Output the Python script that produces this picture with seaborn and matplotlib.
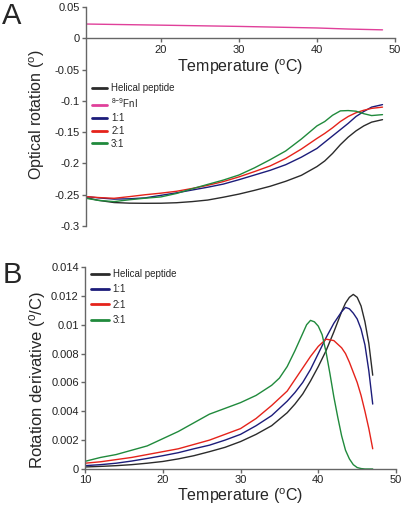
# Thermal unfolding: optical rotation (A) and its derivative (B)
import numpy as np
import pandas as pd
import seaborn as sns
import matplotlib
matplotlib.use("Agg")
import matplotlib.pyplot as plt

sns.set_theme(style="ticks")
plt.rcParams['font.family'] = ['Liberation Sans', 'DejaVu Sans']
plt.rcParams['mathtext.fontset'] = 'custom'
plt.rcParams['mathtext.rm'] = 'Liberation Sans'
plt.rcParams['mathtext.default'] = 'regular'
plt.rcParams['axes.unicode_minus'] = False

# ---- panel A data (optical rotation, degrees) ----
temp_a = [10.4, 12, 14, 16, 18, 20, 22, 24, 26, 28, 30, 32, 34, 36, 38, 40,
          41, 42, 43, 44, 45, 46, 47, 48.4]
helical_a = [-0.2546, -0.259, -0.2625, -0.2635, -0.2637, -0.2636, -0.2628, -0.261,
             -0.2585, -0.254, -0.249, -0.243, -0.2365, -0.2285, -0.219, -0.205,
             -0.196, -0.184, -0.170, -0.158, -0.148, -0.140, -0.134, -0.130]
r11_a = [-0.253, -0.255, -0.257, -0.2565, -0.255, -0.251, -0.247, -0.2425,
         -0.238, -0.233, -0.226, -0.2185, -0.211, -0.202, -0.190, -0.176,
         -0.166, -0.156, -0.146, -0.136, -0.125, -0.117, -0.110, -0.106]
r21_a = [-0.253, -0.2545, -0.2557, -0.253, -0.250, -0.2475, -0.2445, -0.240,
         -0.235, -0.229, -0.2215, -0.213, -0.204, -0.192, -0.177, -0.160,
         -0.152, -0.143, -0.133, -0.125, -0.119, -0.115, -0.112, -0.110]
r31_a = [-0.2557, -0.259, -0.261, -0.258, -0.2555, -0.2535, -0.248, -0.2405,
         -0.2335, -0.2266, -0.2185, -0.207, -0.194, -0.180, -0.161, -0.140,
         -0.133, -0.123, -0.116, -0.1155, -0.1165, -0.1205, -0.1235, -0.122]
temp_fni = [10.4, 20, 30, 40, 44, 48.4]
fni_a = [0.0228, 0.021, 0.019, 0.0165, 0.0148, 0.0135]

# ---- panel B data (rotation derivative, deg/C) ----
temp_b = [10, 12, 14, 16, 18, 20, 22, 24, 26, 28, 30, 32, 34, 36, 37, 38, 39, 40,
          41, 42, 43, 43.5, 44, 44.5, 45, 45.5, 46, 46.5, 47]
helical_b = [0.00014, 0.00018, 0.00023, 0.0003, 0.0004, 0.00052, 0.0007, 0.00092,
             0.0012, 0.0015, 0.0019, 0.0024, 0.003, 0.0039, 0.0045, 0.0052, 0.0061,
             0.0071, 0.0082, 0.0095, 0.0109, 0.0115, 0.0119, 0.0121, 0.0119, 0.0113,
             0.0102, 0.0087, 0.0065]
r11_b = [0.00023, 0.0003, 0.0004, 0.00055, 0.00073, 0.00092, 0.00113, 0.0014,
         0.00165, 0.002, 0.0024, 0.003, 0.0037, 0.0047, 0.0053, 0.0060, 0.0069,
         0.0080, 0.0091, 0.0101, 0.0109, 0.0112, 0.0111, 0.0108, 0.0104, 0.0097,
         0.0086, 0.0068, 0.0045]
r21_b = [0.0004, 0.0005, 0.00065, 0.0008, 0.001, 0.0012, 0.0014, 0.0017, 0.002,
         0.0024, 0.0028, 0.0035, 0.0044, 0.0054, 0.0062, 0.0070, 0.0078, 0.0085,
         0.0090, 0.0089, 0.0084, 0.0080, 0.0074, 0.0067, 0.0060, 0.0051, 0.0040,
         0.0028, 0.0014]
temp_b_green = [10, 12, 14, 16, 18, 20, 22, 24, 26, 28, 30, 32, 34, 35, 36, 37, 38,
                38.5, 39, 39.5, 40, 40.5, 41, 41.5, 42, 42.5, 43, 43.5, 44, 44.5,
                45, 45.5, 46, 47]
r31_b = [0.00053, 0.0008, 0.001, 0.0013, 0.0016, 0.0021, 0.0026, 0.0032, 0.0038,
         0.0042, 0.0046, 0.0051, 0.0058, 0.0063, 0.0071, 0.0082, 0.0094, 0.0100,
         0.0103, 0.0102, 0.0099, 0.0093, 0.0081, 0.0066, 0.0050, 0.0036, 0.0023,
         0.0013, 0.0007, 0.0003, 0.0001, 0.00003, 0.0, 0.0]

c_helical = '#2b2b2b'
c_fni = '#e0409a'
c_11 = '#1c1c7a'
c_21 = '#e5231b'
c_31 = '#208a3c'
spine_col = '#666666'
fs_tick = 8
fs_label = 11.5
fs_leg = 7

fig = plt.figure(figsize=(4.05, 5.08), dpi=100)
ax_a = fig.add_axes([0.2123, 0.5551, 0.763, 0.4311])
ax_b = fig.add_axes([0.2099, 0.0768, 0.768, 0.3976])

# panel A
sns.lineplot(x=temp_a, y=helical_a, color=c_helical, lw=1, label='Helical peptide', ax=ax_a)
sns.lineplot(x=temp_fni, y=fni_a, color=c_fni, lw=1, label='$^{8{-}9}$FnI', ax=ax_a)
sns.lineplot(x=temp_a, y=r11_a, color=c_11, lw=1, label='1:1', ax=ax_a)
sns.lineplot(x=temp_a, y=r21_a, color=c_21, lw=1, label='2:1', ax=ax_a)
sns.lineplot(x=temp_a, y=r31_a, color=c_31, lw=1, label='3:1', ax=ax_a)

ax_a.set_xlim(10.4, 50)
ax_a.set_ylim(-0.3, 0.05)
ax_a.set_xticks([20, 30, 40, 50])
ax_a.set_yticks([-0.3, -0.25, -0.2, -0.15, -0.1, -0.05, 0, 0.05])
ax_a.set_yticklabels(['-0.3', '-0.25', '-0.2', '-0.15', '-0.1', '-0.05', '0', '0.05'])
ax_a.spines['bottom'].set_position(('data', 0))
ax_a.set_xlabel('Temperature ($^{o}$C)', fontsize=fs_label, labelpad=2)
ax_a.set_ylabel('Optical rotation ($^{o}$)', fontsize=fs_label)
ax_a.yaxis.set_label_coords(-0.125, 0.51)
leg_a = ax_a.legend(loc='upper left', bbox_to_anchor=(0.012, 0.66), frameon=False,
                    fontsize=fs_leg, handlelength=1.6, handletextpad=0.4,
                    labelspacing=0.3, borderaxespad=0, borderpad=0.2)

# panel B
sns.lineplot(x=temp_b, y=helical_b, color=c_helical, lw=1, label='Helical peptide', ax=ax_b)
sns.lineplot(x=temp_b, y=r11_b, color=c_11, lw=1, label='1:1', ax=ax_b)
sns.lineplot(x=temp_b, y=r21_b, color=c_21, lw=1, label='2:1', ax=ax_b)
sns.lineplot(x=temp_b_green, y=r31_b, color=c_31, lw=1, label='3:1', ax=ax_b)

ax_b.set_xlim(10, 50)
ax_b.set_ylim(0, 0.014)
ax_b.set_xticks([10, 20, 30, 40, 50])
ax_b.set_yticks([0, 0.002, 0.004, 0.006, 0.008, 0.01, 0.012, 0.014])
ax_b.set_yticklabels(['0', '0.002', '0.004', '0.006', '0.008', '0.01', '0.012', '0.014'])
ax_b.set_xlabel('Temperature ($^{o}$C)', fontsize=fs_label, labelpad=1)
ax_b.set_ylabel('Rotation derivative ($^{o}$/C)', fontsize=fs_label + 0.5)
ax_b.yaxis.set_label_coords(-0.12, 0.44)
leg_b = ax_b.legend(loc='upper left', bbox_to_anchor=(0.014, 1.0), frameon=False,
                    fontsize=fs_leg, handlelength=1.8, handletextpad=0.4,
                    labelspacing=0.55, borderaxespad=0, borderpad=0.2)

for leg in (leg_a, leg_b):
    for h in leg.get_lines():
        h.set_linewidth(2)

for ax in (ax_a, ax_b):
    for side in ('top', 'right'):
        ax.spines[side].set_visible(False)
    for side in ('left', 'bottom'):
        ax.spines[side].set_color(spine_col)
        ax.spines[side].set_linewidth(1)
    ax.tick_params(axis='both', labelsize=fs_tick, length=3, width=1,
                   color=spine_col, labelcolor='#222222', pad=1.5)

fig.text(0.006, 0.997, 'A', fontsize=21, va='top', ha='left')
fig.text(0.006, 0.486, 'B', fontsize=21, va='top', ha='left')

fig.savefig('out.png', dpi=100)
